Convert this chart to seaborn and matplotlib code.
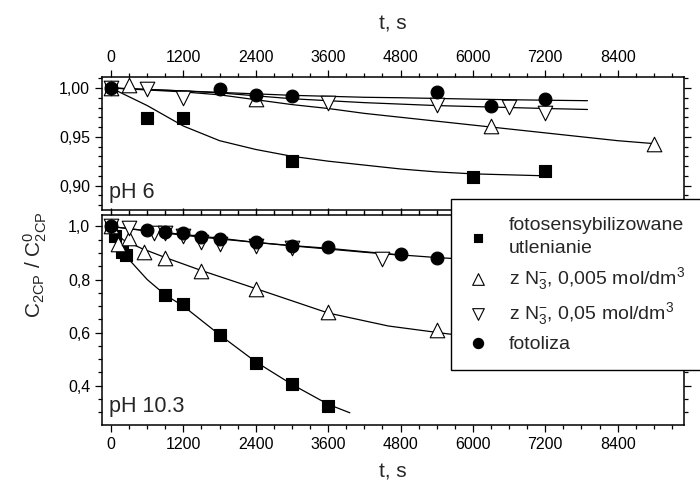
import matplotlib
matplotlib.use("Agg")
import matplotlib.pyplot as plt
from matplotlib.ticker import FixedLocator, MultipleLocator
import seaborn as sns

# ---- pH 6 (upper panel), measured points ----
t6_sq = [0, 600, 1200, 3000, 6000, 7200]
c6_sq = [1.0, 0.969, 0.969, 0.925, 0.909, 0.915]
t6_up = [0, 300, 2400, 6300, 9000]
c6_up = [1.0, 1.003, 0.989, 0.961, 0.943]
t6_dn = [0, 600, 1200, 3600, 5400, 6600, 7200]
c6_dn = [1.0, 0.999, 0.990, 0.985, 0.983, 0.981, 0.974]
t6_ci = [0, 1800, 2400, 3000, 5400, 6300, 7200]
c6_ci = [1.0, 0.999, 0.993, 0.992, 0.9955, 0.982, 0.989]

# fitted curves
f6_t = [0, 600, 1200, 1800, 2400, 3000, 3600, 4200, 4800, 5400, 6000, 6600, 7200, 7900]
f6_sq = [1.0, 0.982, 0.961, 0.946, 0.937, 0.930, 0.925, 0.921, 0.917, 0.914, 0.912, 0.911, 0.910]
f6_ci = [1.0, 0.9985, 0.997, 0.9955, 0.994, 0.9925, 0.9915, 0.9905, 0.990, 0.9893, 0.9886, 0.988, 0.9875, 0.987]
f6_dn = [1.0, 0.9985, 0.997, 0.995, 0.992, 0.989, 0.987, 0.985, 0.9835, 0.982, 0.981, 0.980, 0.979, 0.978]
f6_up_t = [0, 600, 1200, 1800, 2400, 3000, 3600, 4200, 4800, 5400, 6000, 6600, 7200, 7800, 8400, 9000]
f6_up = [1.0, 0.998, 0.996, 0.993, 0.988, 0.983, 0.979, 0.974, 0.970, 0.966, 0.962, 0.958, 0.954, 0.950, 0.946, 0.943]

# ---- pH 10.3 (lower panel), measured points ----
t10_sq = [0, 60, 180, 240, 900, 1200, 1800, 2400, 3000, 3600]
c10_sq = [1.0, 0.965, 0.905, 0.893, 0.742, 0.709, 0.591, 0.487, 0.405, 0.323]
t10_up = [0, 120, 300, 540, 900, 1500, 2400, 3600, 5400]
c10_up = [1.0, 0.935, 0.956, 0.905, 0.883, 0.834, 0.765, 0.679, 0.61]
t10_dn = [0, 300, 720, 900, 1200, 1500, 1800, 2400, 3000, 4500]
c10_dn = [1.0, 0.994, 0.975, 0.975, 0.965, 0.943, 0.935, 0.925, 0.918, 0.877]
t10_ci = [0, 600, 900, 1200, 1500, 1800, 2400, 3000, 3600, 4800, 5400]
c10_ci = [1.0, 0.985, 0.979, 0.974, 0.96, 0.953, 0.943, 0.925, 0.922, 0.895, 0.881]

f10_sq_t = [0, 150, 300, 600, 900, 1200, 1800, 2400, 3000, 3600, 3960]
f10_sq = [1.0, 0.93, 0.875, 0.80, 0.742, 0.70, 0.592, 0.49, 0.405, 0.33, 0.298]
f10_up_t = [0, 200, 500, 900, 1500, 2400, 3600, 4600, 5600, 7200]
f10_up = [1.0, 0.95, 0.918, 0.883, 0.834, 0.766, 0.674, 0.625, 0.595, 0.56]
f10_ci_t = [0, 600, 1200, 1800, 2400, 3000, 3600, 4200, 4800, 5400, 6000, 7200]
f10_ci = [1.0, 0.984, 0.970, 0.956, 0.940, 0.928, 0.918, 0.905, 0.893, 0.883, 0.875, 0.86]
f10_dn_t = [0, 600, 1200, 1800, 2400, 3000, 3600, 4200, 4800]
f10_dn = [1.0, 0.983, 0.967, 0.953, 0.940, 0.927, 0.915, 0.903, 0.892]

x_ticks = [0, 1200, 2400, 3600, 4800, 6000, 7200, 8400]
y6_ticks = [0.90, 0.95, 1.00]
y6_labels = ["0,90", "0,95", "1,00"]
y10_ticks = [0.4, 0.6, 0.8, 1.0]
y10_labels = ["0,4", "0,6", "0,8", "1,0"]

labels = ["fotosensybilizowane\nutlenianie",
          "z N$_3^{-}$, 0,005 mol/dm$^3$",
          "z N$_3^{-}$, 0,05 mol/dm$^3$",
          "fotoliza"]

sns.set_theme(style="ticks")
plt.rcParams["font.family"] = ["Liberation Sans", "DejaVu Sans"]
plt.rcParams["mathtext.default"] = "regular"

fig = plt.figure(figsize=(7, 4.86), dpi=100)
ax1 = fig.add_axes([0.1457, 0.568, 0.8314, 0.273])
ax2 = fig.add_axes([0.1457, 0.1255, 0.8314, 0.4325])

styles = [dict(marker="s", s=64, color="black"),
          dict(marker="^", s=110, color="white"),
          dict(marker="v", s=110, color="white"),
          dict(marker="o", s=85, color="black")]


def draw(ax, curves, points):
    for (tx, cy) in curves:
        sns.lineplot(x=tx[:len(cy)], y=cy, ax=ax, color="black", lw=0.9, zorder=2)
    for (tx, cy), st, lab in zip(points, styles, labels):
        sns.scatterplot(x=tx, y=cy, ax=ax, edgecolor="black", linewidth=0.8,
                        zorder=3, legend=False, label=lab, clip_on=False, **st)


draw(ax1,
     [(f6_t, f6_sq), (f6_t, f6_ci), (f6_t, f6_dn), (f6_up_t, f6_up)],
     [(t6_sq, c6_sq), (t6_up, c6_up), (t6_dn, c6_dn), (t6_ci, c6_ci)])
draw(ax2,
     [(f10_sq_t, f10_sq), (f10_up_t, f10_up), (f10_ci_t, f10_ci), (f10_dn_t, f10_dn)],
     [(t10_sq, c10_sq), (t10_up, c10_up), (t10_dn, c10_dn), (t10_ci, c10_ci)])

for ax in (ax1, ax2):
    ax.set_xlim(-150, 9500)
    ax.xaxis.set_major_locator(FixedLocator(x_ticks))
    ax.xaxis.set_minor_locator(MultipleLocator(300))
    for sp in ax.spines.values():
        sp.set_visible(True)
        sp.set_linewidth(1.1)
        sp.set_color("black")
    ax.tick_params(which="both", direction="out", color="black", width=0.9,
                   top=True, bottom=True, left=True, right=True,
                   labelsize=11.5, labelcolor="black")
    ax.tick_params(which="major", length=5)
    ax.tick_params(which="minor", length=3)
    ax.set_ylabel("")

ax1.set_ylim(0.875, 1.011)
ax1.yaxis.set_major_locator(FixedLocator(y6_ticks))
ax1.set_yticklabels(y6_labels)
ax1.yaxis.set_minor_locator(MultipleLocator(0.01))
ax1.set_xticks(x_ticks)
ax1.set_xticklabels([str(v) for v in x_ticks])
ax1.tick_params(axis="x", labeltop=True, labelbottom=False)
ax1.xaxis.set_label_position("top")
ax1.set_xlabel("t, s", fontsize=15, labelpad=15)
ax1.text(0.012, 0.09, "pH 6", transform=ax1.transAxes, fontsize=15.5)

ax2.set_ylim(0.252, 1.044)
ax2.yaxis.set_major_locator(FixedLocator(y10_ticks))
ax2.set_yticklabels(y10_labels)
ax2.yaxis.set_minor_locator(MultipleLocator(0.05))
ax2.set_xticks(x_ticks)
ax2.set_xticklabels([str(v) for v in x_ticks])
ax2.set_xlabel("t, s", fontsize=15, labelpad=8)
ax2.text(0.012, 0.06, "pH 10.3", transform=ax2.transAxes, fontsize=15.5)

fig.text(0.05, 0.455, "C$_{2CP}$ / C$^0_{2CP}$", rotation=90,
         ha="center", va="center", fontsize=15)

handles, labs = ax2.get_legend_handles_labels()
keep = [(h, l) for h, l in zip(handles, labs) if l in labels]
leg = fig.legend([h for h, _ in keep], [l for _, l in keep],
                 loc="upper left", bbox_to_anchor=(0.644, 0.245, 0.366, 0.345),
                 mode="expand", frameon=True, fancybox=False, framealpha=1,
                 edgecolor="black", fontsize=14, handlelength=1.0,
                 handletextpad=1.1, borderpad=0.9, labelspacing=0.42,
                 borderaxespad=0, markerscale=0.8)
leg.get_frame().set_linewidth(1.0)
for txt in leg.get_texts():
    txt.set_linespacing(1.45)

fig.savefig("out.png", dpi=100)
